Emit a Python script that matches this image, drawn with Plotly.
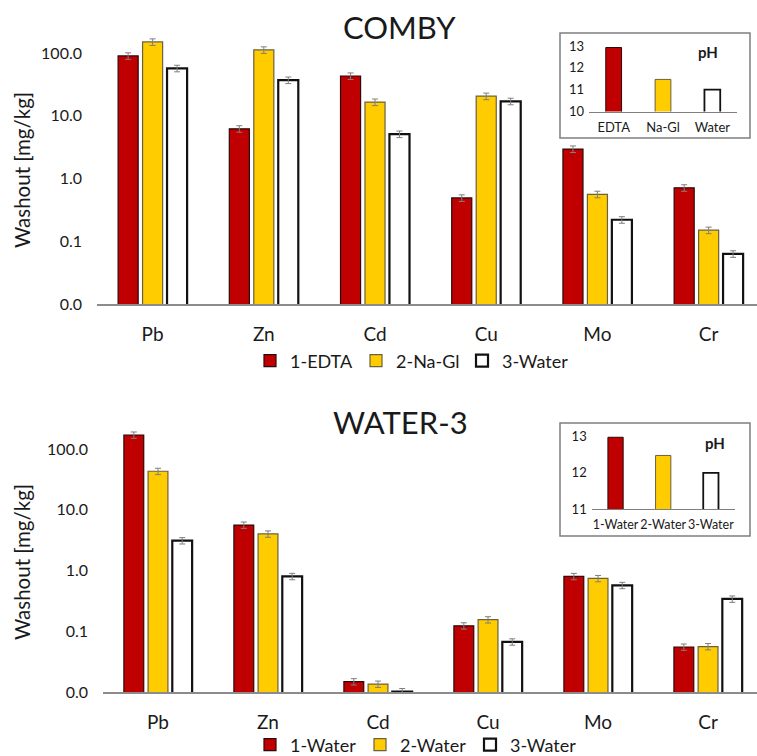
import plotly.graph_objects as go

FONT = "Lato"

metals = ["Pb", "Zn", "Cd", "Cu", "Mo", "Cr"]

# COMBY (top) washout values [mg/kg]
comby_names = ["1-EDTA", "2-Na-Gl", "3-Water"]
comby_edta = [90, 6.2, 43, 0.49, 2.95, 0.71]
comby_nagl = [150, 112, 16.5, 20.5, 0.56, 0.15]
comby_water = [57, 37, 5.1, 17, 0.22, 0.063]

# WATER-3 (bottom) washout values [mg/kg]
water_names = ["1-Water", "2-Water", "3-Water"]
water_1 = [170, 5.6, 0.0148, 0.123, 0.80, 0.055]
water_2 = [43, 4.0, 0.0135, 0.155, 0.74, 0.056]
water_3 = [3.1, 0.80, 0.0102, 0.067, 0.57, 0.34]

# error bar size (percent of value)
err_pct = 12

# pH insets
ph_comby_labels = ["EDTA", "Na-Gl", "Water"]
ph_comby = [12.93, 11.47, 11.0]
ph_water_labels = ["1-Water", "2-Water", "3-Water"]
ph_water = [12.98, 12.48, 12.0]

colors = ["#C00000", "#FFCC00", "#FFFFFF"]
outline = ["#2a0a0a", "#6b6040", "#111111"]
outline_w = [1.2, 1.2, 2.2]

W, H = 757, 756
def px(x): return x / W
def py(y): return 1 - y / H

fig = go.Figure()

def add_main(series, names, xa, ya, legend):
    for i, (vals, nm) in enumerate(zip(series, names)):
        fig.add_trace(go.Bar(
            x=metals, y=vals, name=nm, xaxis=xa, yaxis=ya, legend=legend,
            marker=dict(color=colors[i], line=dict(color=outline[i], width=outline_w[i])),
            error_y=dict(type="percent", value=err_pct, color="#7f7f7f", thickness=1, width=3),
        ))

add_main([comby_edta, comby_nagl, comby_water], comby_names, "x", "y", "legend")
add_main([water_1, water_2, water_3], water_names, "x2", "y2", "legend2")

def add_inset(labels, vals, xa, ya):
    fig.add_trace(go.Bar(
        x=labels, y=vals, xaxis=xa, yaxis=ya, showlegend=False, width=0.32,
        marker=dict(color=colors, line=dict(color=outline, width=[1, 1, 1.8])),
    ))

add_inset(ph_comby_labels, ph_comby, "x3", "y3")
add_inset(ph_water_labels, ph_water, "x4", "y4")

logticks = dict(
    type="log", tickvals=[0.01, 0.1, 1, 10, 100],
    ticktext=["0.0", "0.1", "1.0", "10.0", "100.0"],
    showgrid=False, zeroline=False, showline=False, ticks="",
    tickfont=dict(size=16, color="#1a1a1a", family=FONT), ticklabelstandoff=14,
)
xmain = dict(
    showgrid=False, zeroline=False, showline=True, linecolor="#8c8c8c", linewidth=1.5,
    ticks="", tickfont=dict(size=19, color="#1a1a1a", family=FONT), ticklabelstandoff=12,
)
inset_x = dict(showgrid=False, zeroline=False, showline=True, linecolor="#7f7f7f", linewidth=1.2,
               ticks="", tickangle=0, ticklabelstandoff=4)
inset_y = dict(showgrid=False, zeroline=False, showline=False, ticks="",
               tickfont=dict(size=13, family=FONT, color="#1a1a1a"), ticklabelstandoff=4)

def ann(text, x, y, size, **kw):
    return dict(text=text, x=px(x), y=py(y), xref="paper", yref="paper", showarrow=False,
                xanchor="center", yanchor="middle",
                font=dict(size=size, family=FONT, color="#1a1a1a"), **kw)

fig.update_layout(
    width=W, height=H, margin=dict(l=0, r=0, t=0, b=0, autoexpand=False),
    paper_bgcolor="white", plot_bgcolor="rgba(0,0,0,0)",
    font=dict(family=FONT, color="#1a1a1a"),
    barmode="group", bargap=0.34, bargroupgap=0.18,
    xaxis=dict(domain=[px(97), 1], range=[-0.5, 5.435], anchor="y", **xmain),
    yaxis=dict(domain=[py(304), py(31)], range=[-2, 2.351], anchor="x", **logticks),
    xaxis2=dict(domain=[px(103), 1], range=[-0.5, 5.445], anchor="y2", **xmain),
    yaxis2=dict(domain=[py(692), py(420)], range=[-2, 2.477], anchor="x2", **logticks),
    xaxis3=dict(domain=[px(589), px(737)], range=[-0.5, 2.5], anchor="y3",
                tickfont=dict(size=13, family=FONT, color="#1a1a1a"), **inset_x),
    yaxis3=dict(domain=[py(111.5), py(40)], range=[10, 13.275], anchor="x3",
                tickvals=[10, 11, 12, 13], **inset_y),
    xaxis4=dict(domain=[px(591.7), px(734.7)], range=[-0.5, 2.5], anchor="y4",
                tickfont=dict(size=12.5, family=FONT, color="#1a1a1a"), **inset_x),
    yaxis4=dict(domain=[py(509.3), py(430)], range=[11, 13.18], anchor="x4",
                tickvals=[11, 12, 13], **inset_y),
    legend=dict(orientation="h", x=px(409), y=py(361), xanchor="center", yanchor="middle",
                font=dict(size=18, family=FONT, color="#1a1a1a"), itemwidth=30,
                entrywidth=61, bgcolor="rgba(0,0,0,0)", traceorder="normal"),
    legend2=dict(orientation="h", x=px(415), y=py(745), xanchor="center", yanchor="middle",
                 font=dict(size=18, family=FONT, color="#1a1a1a"), itemwidth=30,
                 entrywidth=65, bgcolor="rgba(0,0,0,0)", traceorder="normal"),
    shapes=[
        dict(type="rect", xref="paper", yref="paper", x0=px(560), x1=px(750), y0=py(138), y1=py(33),
             line=dict(color="#7f7f7f", width=1.5), fillcolor="white", layer="below"),
        dict(type="rect", xref="paper", yref="paper", x0=px(560), x1=px(750), y0=py(536), y1=py(423),
             line=dict(color="#7f7f7f", width=1.5), fillcolor="white", layer="below"),
    ],
    annotations=[
        ann("COMBY", 399, 27, 31),
        ann("WATER-3", 400, 422, 31),
        ann("Washout [mg/kg]", 22, 170, 20.5, textangle=-90),
        ann("Washout [mg/kg]", 22, 562, 20.5, textangle=-90),
        ann("<b>pH</b>", 708, 52, 15),
        ann("<b>pH</b>", 715, 443, 15),
    ],
)

fig.write_html(
    "out.html",
    config={"displayModeBar": False},
    post_script="document.body.style.margin='0';document.documentElement.style.overflow='hidden';",
)
